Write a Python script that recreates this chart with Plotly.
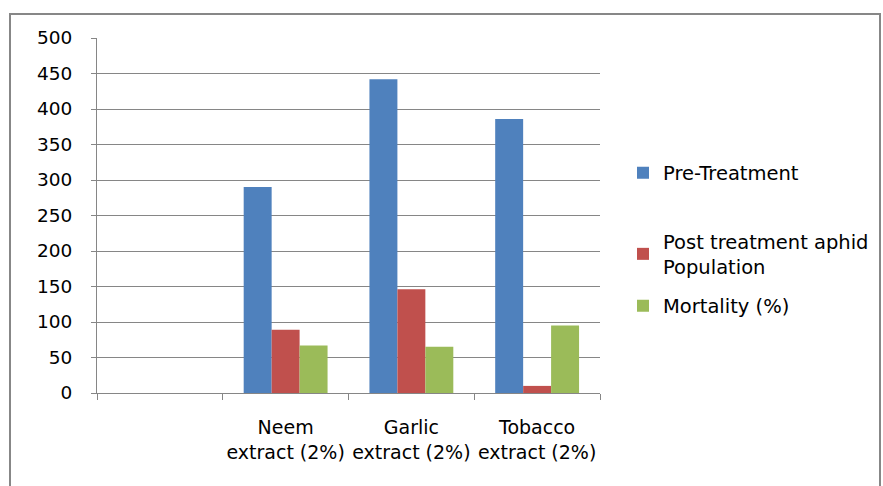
import plotly.graph_objects as go

# Categories (the first slot is intentionally left empty)
categories = [" ", "Neem<br>extract (2%)", "Garlic<br>extract (2%)", "Tobacco<br>extract (2%)"]
pre_treatment = [None, 290, 442, 386]
post_treatment = [None, 89, 146, 10]
mortality = [None, 67, 65, 95]

series_names = ["Pre-Treatment", "Post treatment aphid<br>Population", "Mortality (%)"]
series_values = [pre_treatment, post_treatment, mortality]
series_colors = ["#4F81BD", "#C0504D", "#9BBB59"]
y_ticks = list(range(0, 501, 50))

FONT = "DejaVu Sans, sans-serif"
FS = 18.5
W, H = 883, 486
L, R, T, B = 97, 283, 38, 93
pw, ph = W - L - R, H - T - B

fig = go.Figure()
legend_ids = ["legend", "legend2", "legend3"]
legend_y_px = [173, 254, 306]
for name, vals, col, lg in zip(series_names, series_values, series_colors, legend_ids):
    fig.add_trace(go.Bar(
        x=categories, y=vals, name=name, marker_color=col,
        marker_line_width=0, legend=lg,
    ))

def px_x(px):
    return (px - L) / pw

def px_y(py):
    return (H - B - py) / ph

legend_common = dict(
    font=dict(family=FONT, size=19.5, color="#000000"),
    bgcolor="rgba(0,0,0,0)",
    xanchor="left", yanchor="middle",
    itemclick=False, itemdoubleclick=False,
)
legend_layouts = {}
for lg, ypx in zip(legend_ids, legend_y_px):
    legend_layouts[lg] = dict(x=px_x(623), y=px_y(ypx), **legend_common)

fig.update_layout(
    width=W, height=H,
    margin=dict(l=L, r=R, t=T, b=B, autoexpand=False),
    paper_bgcolor="white", plot_bgcolor="white",
    barmode="group", bargap=0.333, bargroupgap=0,
    font=dict(family=FONT, size=FS, color="#000000"),
    showlegend=True,
    **legend_layouts,
)

fig.update_xaxes(
    type="category", categoryorder="array", categoryarray=categories,
    showline=True, linecolor="#868686", linewidth=1,
    ticks="outside", tickson="boundaries", ticklen=6, tickcolor="#868686",
    showgrid=False, zeroline=False, ticklabelstandoff=17,
    tickangle=0, automargin=False,
    tickfont=dict(family=FONT, size=19, color="#000000"),
)
fig.update_yaxes(
    range=[0, 500], tickvals=y_ticks, ticktext=[str(v) for v in y_ticks],
    showline=True, linecolor="#868686", linewidth=1,
    ticks="outside", ticklen=5, tickcolor="#868686",
    showgrid=True, gridcolor="#868686", gridwidth=1,
    zeroline=False, ticklabelstandoff=15, automargin=False,
    tickfont=dict(family=FONT, size=FS, color="#000000"),
)

# Outer chart frame
fig.add_shape(
    type="rect", xref="paper", yref="paper",
    x0=px_x(10), x1=px_x(880), y0=px_y(492), y1=px_y(14),
    line=dict(color="#878787", width=2), fillcolor="rgba(0,0,0,0)",
    layer="below",
)

fig.write_html("out.html")
